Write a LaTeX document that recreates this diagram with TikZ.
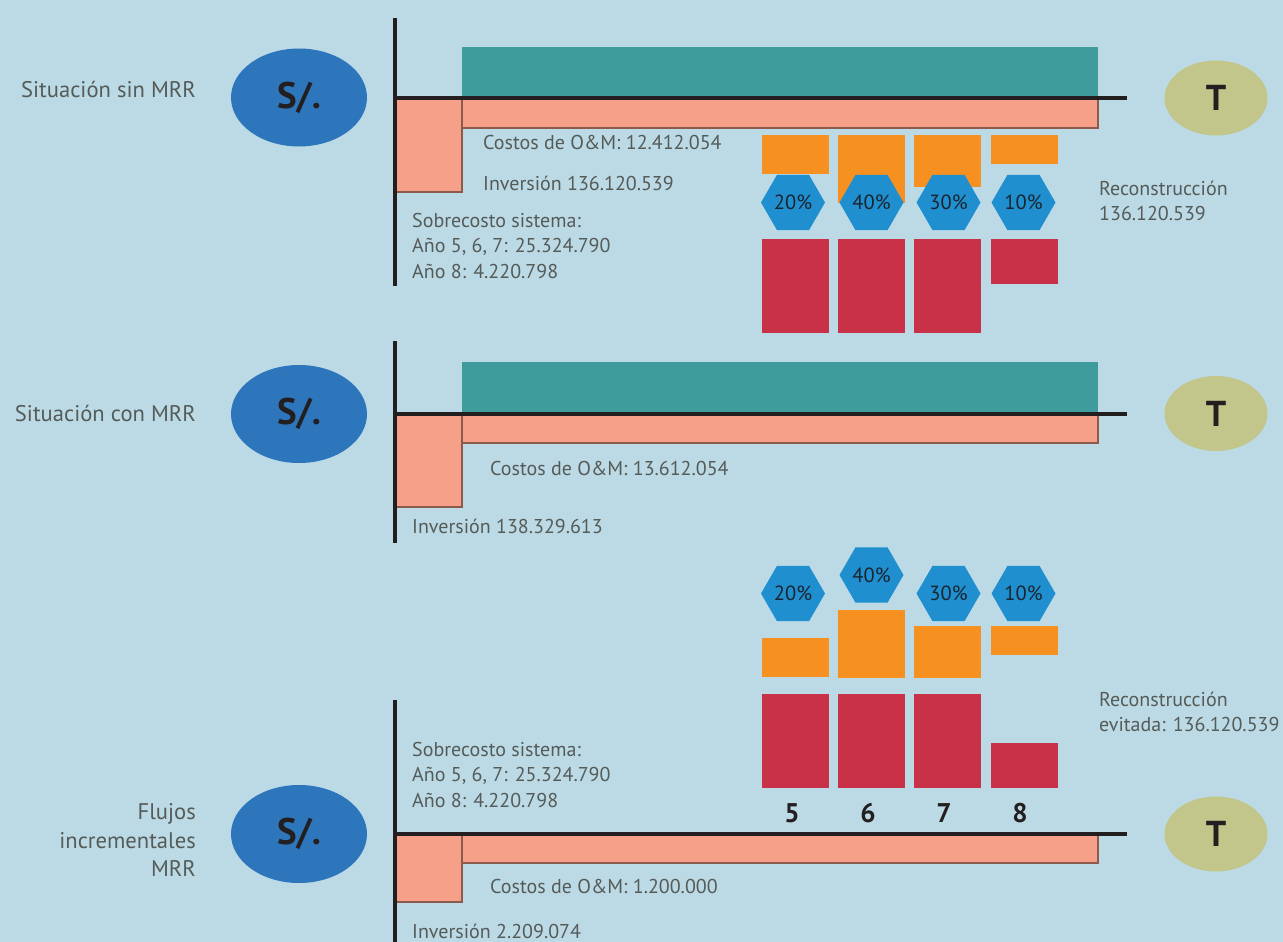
\documentclass[tikz,border=0pt]{standalone}
\usepackage{fontspec}
\setmainfont{PT Sans}
\usetikzlibrary{shapes.geometric}
\definecolor{bg}{HTML}{BCDAE6}
\definecolor{tealc}{HTML}{3F9C9C}
\definecolor{salmon}{HTML}{F6A08A}
\definecolor{brownedge}{HTML}{8C5A4D}
\definecolor{orangec}{HTML}{F69121}
\definecolor{redc}{HTML}{C93148}
\definecolor{hexblue}{HTML}{1F8FCF}
\definecolor{sblue}{HTML}{2E76BC}
\definecolor{tolive}{HTML}{C2C68B}
\definecolor{txtgray}{HTML}{555B57}
\definecolor{axiscol}{HTML}{231F20}
\definecolor{hextext}{HTML}{1A2530}
\begin{document}
\begin{tikzpicture}[x=1pt,y=-1pt,
  txt/.style={text=txtgray,font=\fontsize{20}{25}\selectfont,inner sep=0pt,anchor=base west},
  txtr/.style={text=txtgray,font=\fontsize{22.6}{28}\selectfont,inner sep=0pt,anchor=base east},
  solnode/.style={ellipse,fill=sblue,minimum width=136pt,minimum height=98pt,inner sep=0pt,font=\bfseries\fontsize{37}{37}\selectfont,text=axiscol},
  tnode/.style={ellipse,fill=tolive,minimum width=103pt,minimum height=75pt,inner sep=0pt,font=\bfseries\fontsize{36}{36}\selectfont,text=axiscol},
  hexnode/.style={regular polygon,regular polygon sides=6,minimum size=64pt,inner sep=0pt,fill=hexblue,text=hextext,font=\fontsize{20.5}{20.5}\selectfont},
  yearnum/.style={text=axiscol,font=\bfseries\fontsize{27}{27}\selectfont,inner sep=0pt,anchor=base},
  axisline/.style={draw=axiscol,line width=4.8pt},
  edgeline/.style={draw=brownedge,line width=2.2pt},
  tealbar/.style={fill=tealc},
  salmonbar/.style={fill=salmon},
  orangebar/.style={fill=orangec},
  redbar/.style={fill=redc}
]
\useasboundingbox (0,0) rectangle (1283,942);
\fill[bg] (0,0) rectangle (1283,942);

% ================= Section 1 =================
\fill[tealbar] (462,47) rectangle (1098,98);
\fill[salmonbar] (462,98) rectangle (1098,128);
\fill[salmonbar] (395,98) rectangle (462,192);
\draw[edgeline] (462,100) -- (462,192) -- (395,192);
\draw[edgeline] (462,128) -- (1098,128) -- (1098,100);
\draw[axisline] (395,18) -- (395,286);
\draw[axisline] (393,98) -- (1127,98);

\node[solnode] (s1) at (299,97.5) {S/.};
\node[tnode] (t1) at (1216,98) {T};
\node[txtr] (l1) at (196,98) {Situación sin MRR};
\node[txt] (c1) at (483,149) {Costos de O\&M: 12.412.054};
\node[txt] (i1) at (483,190) {Inversión 136.120.539};
\node[txt] (sa1) at (412,227) {Sobrecosto sistema:};
\node[txt] (sb1) at (412,252.5) {Año 5, 6, 7: 25.324.790};
\node[txt] (sc1) at (412,278) {Año 8: 4.220.798};
\node[txt] (r1) at (1099,195.5) {Reconstrucción};
\node[txt] (r1b) at (1099,220.5) {136.120.539};

\fill[orangebar] (762,135) rectangle (829,174);
\fill[orangebar] (838,135) rectangle (905,203);
\fill[orangebar] (914,135) rectangle (981,187);
\fill[orangebar] (991,135) rectangle (1058,164);
\fill[redbar] (762,239) rectangle (829,333);
\fill[redbar] (838,239) rectangle (905,333);
\fill[redbar] (914,239) rectangle (981,333);
\fill[redbar] (991,239) rectangle (1058,284);
\node[hexnode] (h11) at (793,202.5) {20\%};
\node[hexnode] (h12) at (871.5,202.5) {40\%};
\node[hexnode] (h13) at (948.5,202.5) {30\%};
\node[hexnode] (h14) at (1023.5,202.5) {10\%};

% ================= Section 2 =================
\fill[tealbar] (462,362) rectangle (1098,414);
\fill[salmonbar] (462,414) rectangle (1098,443);
\fill[salmonbar] (395,414) rectangle (462,507);
\draw[edgeline] (462,416) -- (462,507) -- (395,507);
\draw[edgeline] (462,443) -- (1098,443) -- (1098,416);
\draw[axisline] (395,341) -- (395,543);
\draw[axisline] (393,414) -- (1127,414);

\node[solnode] (s2) at (299,414) {S/.};
\node[tnode] (t2) at (1216,413.5) {T};
\node[txtr] (l2) at (196,421) {Situación con MRR};
\node[txt] (c2) at (490,475.5) {Costos de O\&M: 13.612.054};
\node[txt] (i2) at (412,533) {Inversión 138.329.613};

% ================= Section 3 =================
\fill[salmonbar] (462,834) rectangle (1098,863);
\fill[salmonbar] (395,834) rectangle (462,902);
\draw[edgeline] (462,836) -- (462,902) -- (395,902);
\draw[edgeline] (462,863) -- (1098,863) -- (1098,836);
\draw[axisline] (395,700) -- (395,942);
\draw[axisline] (393,834) -- (1127,834);

\node[solnode] (s3) at (299,834) {S/.};
\node[tnode] (t3) at (1216,834) {T};
\node[txtr] (l3a) at (196,819) {Flujos};
\node[txtr] (l3b) at (196,848) {incrementales};
\node[txtr] (l3c) at (196,876) {MRR};
\node[txt] (c3) at (490,893) {Costos de O\&M: 1.200.000};
\node[txt] (i3) at (412,938) {Inversión 2.209.074};
\node[txt] (sa3) at (412,756) {Sobrecosto sistema:};
\node[txt] (sb3) at (412,781.5) {Año 5, 6, 7: 25.324.790};
\node[txt] (sc3) at (412,807) {Año 8: 4.220.798};
\node[txt] (r3) at (1099,706) {Reconstrucción};
\node[txt] (r3b) at (1099,731.5) {evitada: 136.120.539};

\fill[orangebar] (762,638) rectangle (829,677);
\fill[orangebar] (838,610) rectangle (905,678);
\fill[orangebar] (914,626) rectangle (981,678);
\fill[orangebar] (991,626) rectangle (1058,655);
\fill[redbar] (762,694) rectangle (829,788);
\fill[redbar] (838,694) rectangle (905,788);
\fill[redbar] (914,694) rectangle (981,788);
\fill[redbar] (991,743) rectangle (1058,788);
\node[hexnode] (h31) at (793,593.5) {20\%};
\node[hexnode] (h32) at (871.5,575) {40\%};
\node[hexnode] (h33) at (948.5,593.5) {30\%};
\node[hexnode] (h34) at (1023.5,593.5) {10\%};
\node[yearnum] (y5) at (792,822.5) {5};
\node[yearnum] (y6) at (868,822.5) {6};
\node[yearnum] (y7) at (944,822.5) {7};
\node[yearnum] (y8) at (1020,822.5) {8};
\end{tikzpicture}
\end{document}
